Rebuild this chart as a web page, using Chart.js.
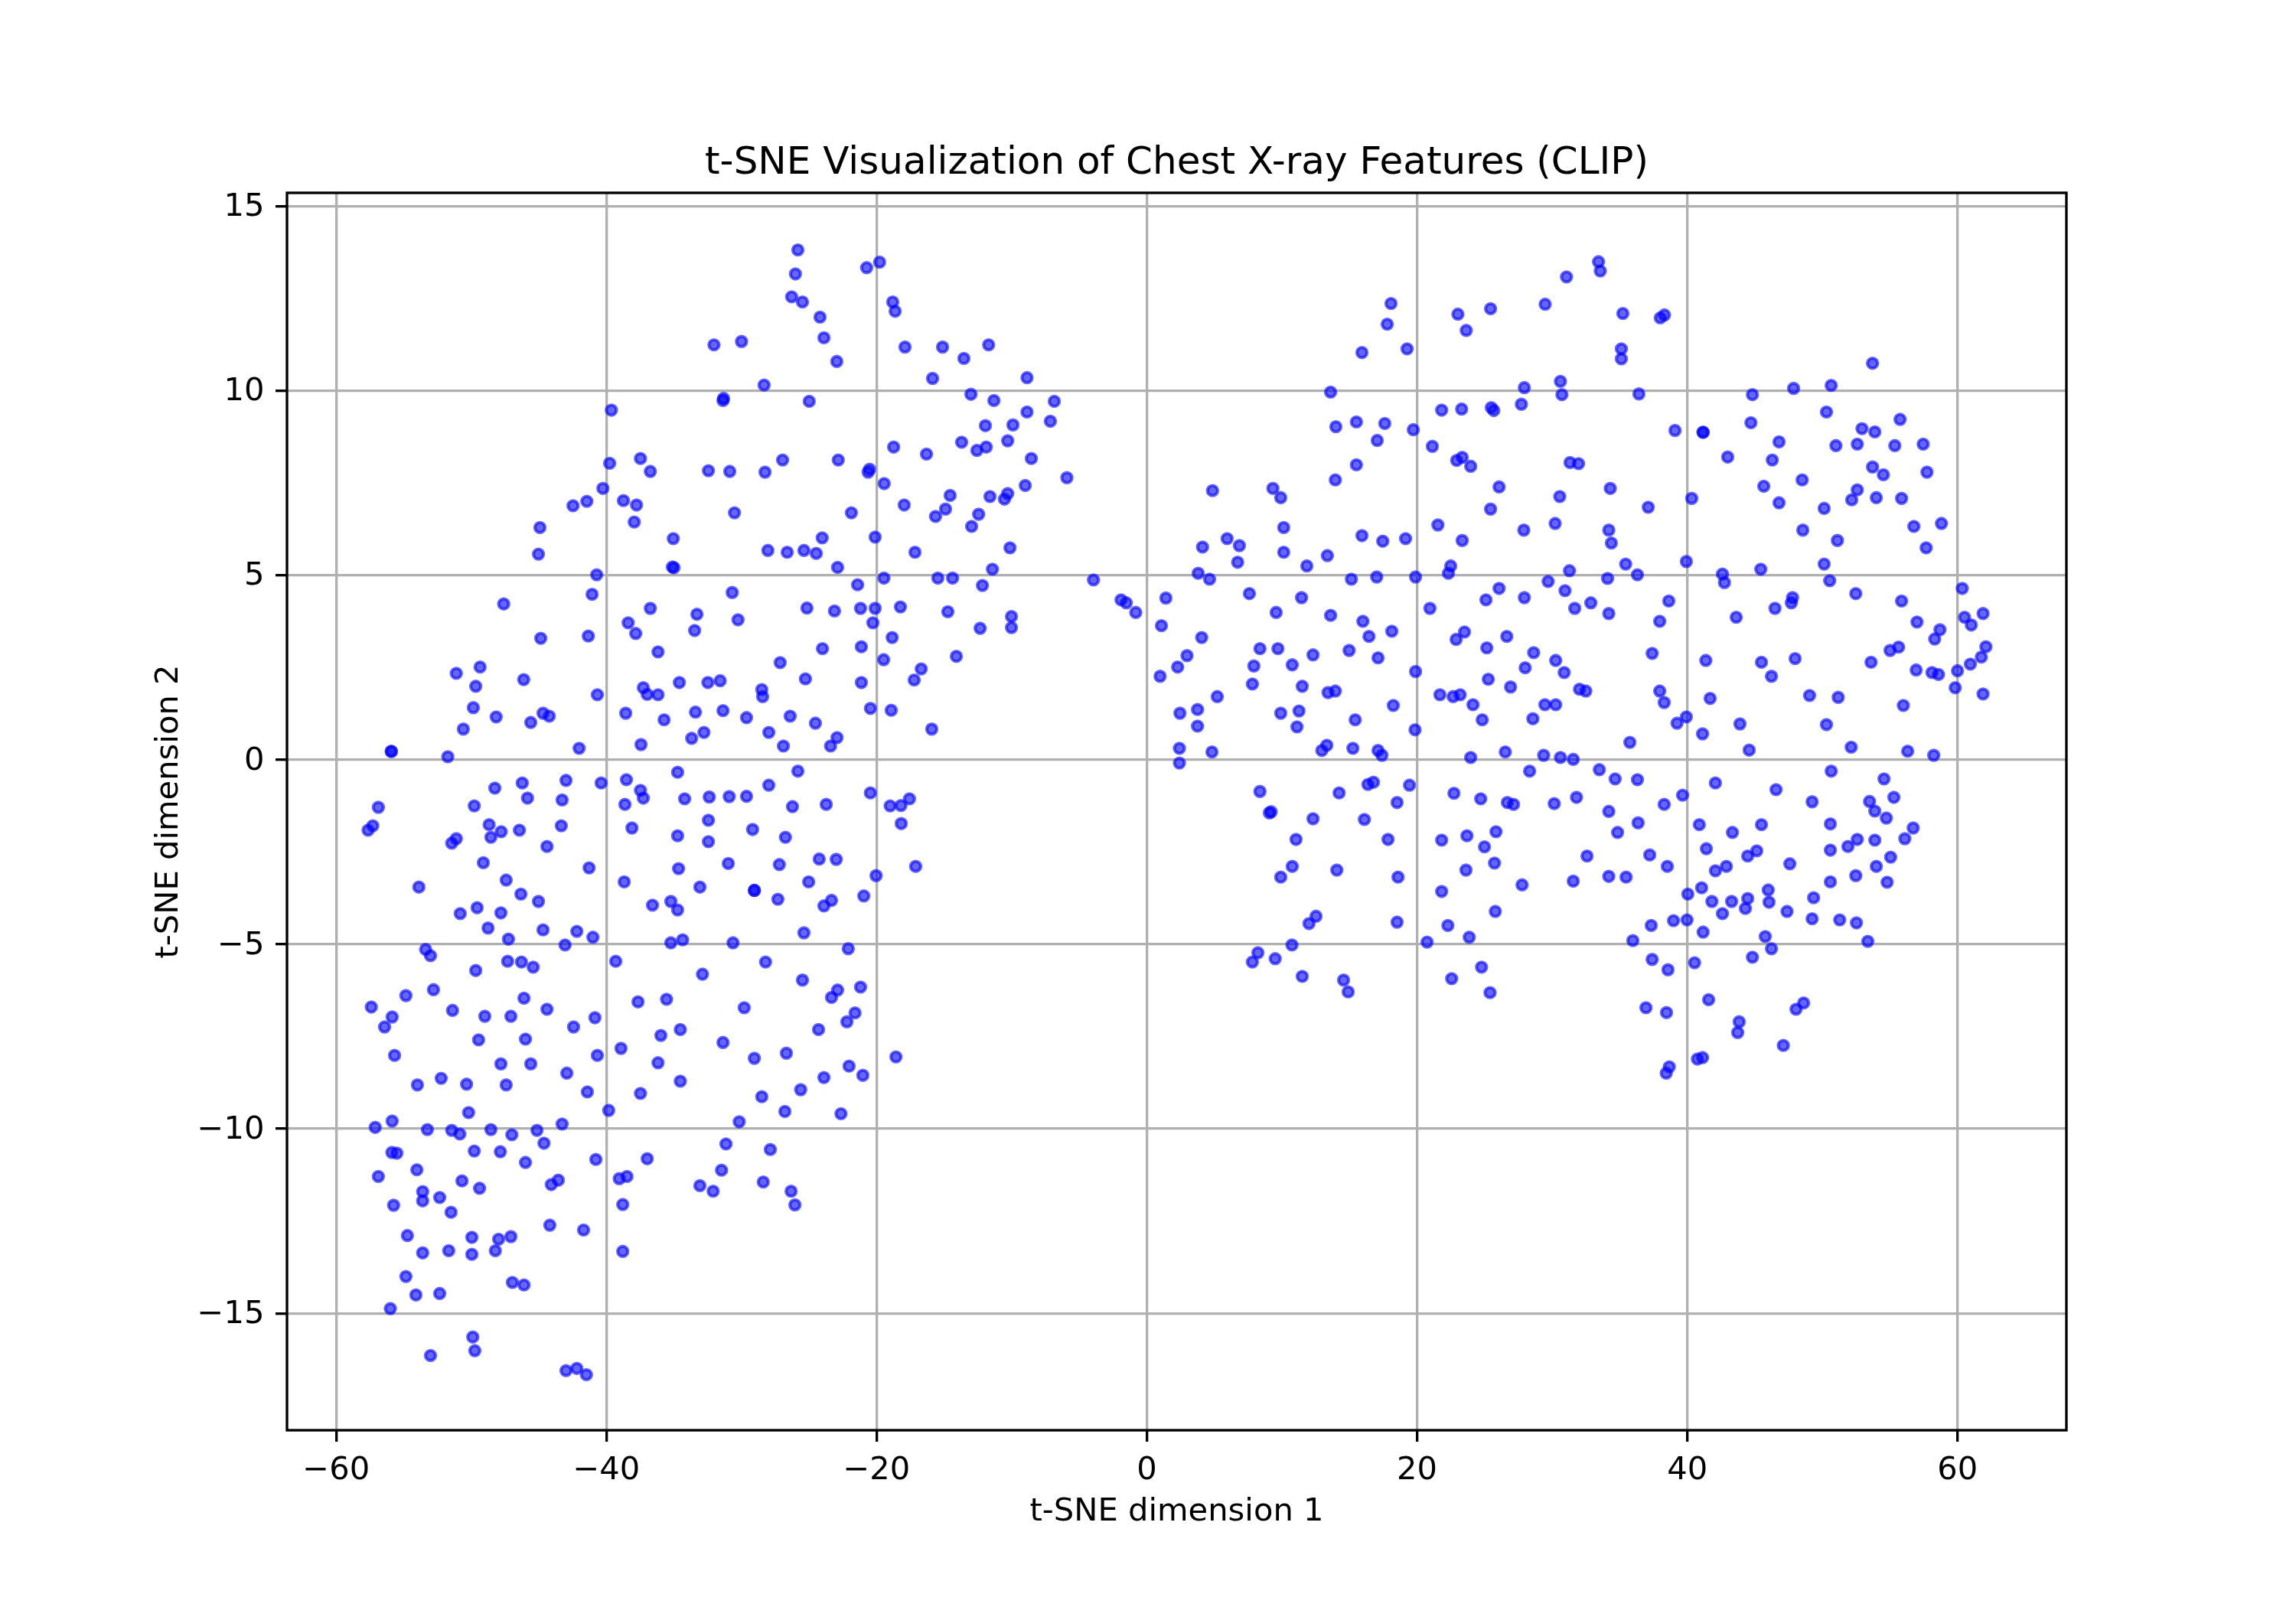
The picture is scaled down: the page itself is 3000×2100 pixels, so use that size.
<!DOCTYPE html>
<html>
<head>
<meta charset="utf-8">
<style>
html,body{margin:0;padding:0;background:#fff}
canvas{display:block}
</style>
<script src="https://cdn.jsdelivr.net/npm/chart.js@4"></script>
</head>
<body>
<canvas id="c" width="3000" height="2100" style="width:3000px;height:2100px"></canvas>
<script>
const chartTitle = "t-SNE Visualization of Chest X-ray Features (CLIP)";
const xLabel = "t-SNE dimension 1";
const yLabel = "t-SNE dimension 2";
const xTickValues = [-60,-40,-20,0,20,40,60];
const yTickValues = [-15,-10,-5,0,5,10,15];
const xLimits = [-63.64,68.06];
const yLimits = [-18.165,15.357];

const leftUpper = [
[-32.04,11.24],[-30.0,11.33],[-31.33,9.79],[-31.37,9.73],[-39.63,9.47],[-39.76,8.03],[-37.48,8.16],[-36.75,7.81],[-32.45,7.83],[-30.87,7.81],
[-40.26,7.35],[-41.45,7.0],[-42.47,6.88],[-38.74,7.02],[-37.77,6.9],[-30.52,6.69],[-37.94,6.44],[-44.92,6.29],[-45.03,5.57],[-35.05,5.99],
[-35.12,5.22],[-35.0,5.2],[-40.72,5.01],[-41.06,4.48],[-30.69,4.53],[-47.6,4.22],[-36.75,4.1],[-33.3,3.94],[-30.26,3.79],[-38.39,3.71],
[-33.47,3.5],[-37.83,3.42],[-44.86,3.29],[-41.34,3.35],[-36.18,2.92],[-49.35,2.51],[-51.11,2.34],[-49.67,1.99],[-46.12,2.17],[-40.67,1.76],
[-37.27,1.95],[-36.98,1.77],[-36.18,1.76],[-34.6,2.09],[-32.49,2.09],[-31.58,2.14],[-49.85,1.41],[-48.16,1.16],[-45.6,1.01],[-44.69,1.26],
[-44.23,1.18],[-50.59,0.83],[-38.57,1.26],[-35.73,1.08],[-33.41,1.29],[-31.37,1.33],[-29.63,1.14],[-32.78,0.74],[-33.69,0.58],[-37.44,0.41],
[-42.02,0.31],[-55.92,0.23],[-55.92,0.22],[-51.74,0.08]
];
const leftMiddle = [
[-34.73,-0.34],[-38.52,-0.54],[-42.99,-0.56],[-40.39,-0.63],[-46.23,-0.63],[-48.26,-0.77],[-37.48,-0.83],[-37.27,-1.04],[-45.84,-1.04],[-43.28,-1.09],
[-34.21,-1.06],[-32.39,-1.01],[-30.91,-1.0],[-29.63,-0.99],[-38.63,-1.21],[-49.78,-1.25],[-56.88,-1.29],[-57.29,-1.79],[-57.64,-1.91],[-48.68,-1.76],
[-47.79,-1.95],[-48.55,-2.1],[-46.44,-1.91],[-43.34,-1.79],[-38.11,-1.85],[-34.73,-2.06],[-32.45,-1.64],[-32.45,-2.22],[-51.11,-2.14],[-51.45,-2.26],
[-44.4,-2.35],[-49.11,-2.79],[-41.28,-2.93],[-34.66,-2.95],[-30.98,-2.81],[-47.42,-3.26],[-38.68,-3.31],[-53.88,-3.45],[-33.08,-3.45],[-46.33,-3.64],
[-45.03,-3.84],[-49.57,-4.01],[-47.81,-4.15],[-50.82,-4.17],[-36.59,-3.94],[-35.23,-3.84],[-34.73,-4.07],[-48.76,-4.56],[-44.69,-4.61],[-42.19,-4.65],
[-41.0,-4.81],[-47.25,-4.86],[-43.06,-5.02],[-35.23,-4.96],[-34.36,-4.88],[-30.63,-4.96],[-53.38,-5.14],[-53.02,-5.31],[-47.31,-5.46],[-46.29,-5.48],
[-45.42,-5.62],[-49.67,-5.71],[-39.31,-5.46],[-32.89,-5.81],[-52.8,-6.23],[-54.84,-6.39],[-57.4,-6.7],[-46.1,-6.46],[-35.55,-6.49],[-37.66,-6.56],
[-51.39,-6.79],[-44.4,-6.76],[-55.86,-6.97],[-49.0,-6.95],[-47.07,-6.95],[-40.85,-6.99],[-29.8,-6.72]
];
const leftLower = [
[-56.42,-7.24],[-42.43,-7.24],[-35.97,-7.47],[-34.53,-7.31],[-31.37,-7.66],[-49.46,-7.59],[-45.99,-7.57],[-55.68,-8.01],[-40.67,-8.01],[-38.92,-7.82],
[-47.81,-8.24],[-45.6,-8.24],[-36.18,-8.21],[-42.93,-8.49],[-34.53,-8.71],[-52.23,-8.63],[-53.99,-8.81],[-50.35,-8.79],[-47.42,-8.81],[-41.41,-9.0],
[-37.48,-9.04],[-39.83,-9.5],[-50.2,-9.56],[-55.86,-9.79],[-57.11,-9.96],[-43.28,-9.87],[-30.17,-9.81],[-53.25,-10.02],[-51.45,-10.04],[-50.85,-10.14],
[-48.55,-10.02],[-47.0,-10.16],[-45.14,-10.04],[-44.62,-10.39],[-31.15,-10.41],[-55.88,-10.64],[-55.51,-10.66],[-49.78,-10.6],[-47.85,-10.62],
[-45.99,-10.91],[-40.78,-10.83],[-36.98,-10.81],[-54.03,-11.11],[-56.88,-11.29],[-50.69,-11.41],[-49.39,-11.61],[-43.56,-11.39],[-44.08,-11.51],[-39.05,-11.35],
[-38.48,-11.29],[-31.48,-11.12],[-33.08,-11.54],[-32.1,-11.69],[-53.6,-11.7],[-53.6,-11.95],[-52.34,-11.86],[-55.75,-12.07],[-51.5,-12.26],[-38.79,-12.05],
[-44.19,-12.61],[-41.69,-12.74],[-54.73,-12.89],[-49.96,-12.94],[-47.98,-12.99],[-47.07,-12.92],[-53.6,-13.36],[-51.67,-13.3],[-49.96,-13.4],[-48.22,-13.3],
[-38.79,-13.32],[-54.84,-14.0],[-46.96,-14.16],[-46.1,-14.23],[-52.34,-14.46],[-54.1,-14.5],[-55.99,-14.87],[-49.89,-15.64],[-49.74,-16.01],[-53.02,-16.14],
[-42.99,-16.55],[-42.19,-16.49],[-41.48,-16.66]
];
const centerUpper = [
[-25.83,13.81],[-26.01,13.16],[-26.29,12.54],[-25.49,12.4],[-24.19,11.99],[-23.9,11.43],[-22.95,10.79],[-20.74,13.33],[-19.78,13.48],[-18.81,12.4],
[-18.63,12.15],[-17.9,11.18],[-15.12,11.18],[-13.54,10.87],[-11.71,11.24],[-15.86,10.33],[-8.87,10.35],[-28.33,10.15],[-24.99,9.71],[-13.02,9.9],
[-11.32,9.73],[-6.85,9.71],[-8.87,9.42],[-7.14,9.17],[-11.95,9.05],[-9.91,9.07],[-10.3,8.64],[-13.71,8.6],[-12.58,8.38],[-11.89,8.47],
[-8.55,8.16],[-18.74,8.47],[-16.31,8.28],[-26.96,8.12],[-22.84,8.12],[-28.26,7.79],[-20.52,7.87],[-20.63,7.79],[-19.44,7.48],
[-5.92,7.64],[-9.0,7.43],[-10.3,7.21],[-10.54,7.06],[-11.61,7.13],[-14.56,7.16],[-14.9,6.79],[-15.64,6.59],[-17.96,6.9],[-12.45,6.65],
[-12.97,6.32],[-21.87,6.69],[-24.03,6.01],[-20.11,6.03],[-10.13,5.74],[-28.05,5.67],[-26.62,5.62],[-25.38,5.67],[-24.47,5.59],[-17.16,5.62],
[-22.89,5.21],[-11.43,5.16],[-19.46,4.92],[-15.47,4.92],[-14.38,4.92],[-12.17,4.72],[-21.41,4.74]
];
const centerMiddle = [
[-25.16,4.11],[-23.12,4.03],[-21.19,4.1],[-20.11,4.1],[-18.24,4.14],[-14.73,4.01],[-10.02,3.88],[-10.02,3.58],[-12.34,3.56],[-20.28,3.71],
[-18.85,3.31],[-24.01,3.01],[-21.13,3.06],[-27.14,2.63],[-19.48,2.71],[-16.7,2.46],[-14.1,2.8],[-17.22,2.16],[-25.27,2.19],[-21.13,2.09],
[-28.5,1.9],[-28.44,1.71],[-20.46,1.39],[-18.92,1.34],[-26.4,1.18],[-24.53,0.99],[-27.98,0.74],[-22.93,0.6],[-23.41,0.37],[-26.9,0.37],
[-15.92,0.83],[-25.83,-0.31],[-27.98,-0.69],[-20.46,-0.9],[-19.0,-1.25],[-18.2,-1.24],[-17.57,-1.06],[-26.23,-1.27],[-23.73,-1.21],[-18.18,-1.73],
[-29.18,-1.89],[-26.75,-2.1],[-24.25,-2.69],[-22.99,-2.7],[-27.2,-2.84],[-17.11,-2.89],[-20.04,-3.14],[-25.03,-3.31],[-29.05,-3.54],[-29.05,-3.54],
[-27.31,-3.78],[-23.34,-3.81],[-23.9,-3.96],[-20.95,-3.69],[-25.38,-4.69],[-22.1,-5.12],[-28.22,-5.48],[-25.49,-5.97],[-21.19,-6.16],[-22.89,-6.24],
[-23.34,-6.44],[-21.6,-6.86],[-22.2,-7.1],[-24.3,-7.31],[-26.68,-7.95],[-29.05,-8.09],[-18.57,-8.05],[-22.04,-8.3],[-21.02,-8.55],[-23.9,-8.61],
[-25.62,-8.94],[-28.5,-9.13],[-26.79,-9.53],[-22.64,-9.59],[-27.87,-10.56],[-28.39,-11.44],[-26.33,-11.69],[-26.05,-12.06]
];
const bridge = [[-3.95,4.87],[-1.91,4.33],[-1.52,4.25],[-0.82,3.99]];
const rightUpper = [
[33.43,13.49],[33.56,13.24],[31.06,13.08],[29.48,12.34],[18.07,12.36],[17.79,11.8],[23.02,12.07],[25.44,12.22],[23.64,11.63],[15.92,11.03],
[19.26,11.13],[13.6,9.96],[27.94,10.08],[30.61,10.25],[30.72,9.89],[21.82,9.47],[23.3,9.5],[25.49,9.54],[25.68,9.46],
[27.72,9.63],[13.99,9.02],[15.51,9.15],[17.61,9.11],[19.72,8.94],[17.05,8.65],[21.13,8.49],[22.93,8.11],[23.34,8.19],[23.97,7.95],
[15.51,7.99],[13.95,7.58],[31.32,8.05],[31.95,8.02],[26.07,7.39],[34.3,7.35],[30.56,7.13],[4.86,7.29],[9.33,7.35],[9.91,7.1],
[25.44,6.79],[30.22,6.4],[21.54,6.36],[27.9,6.22],[34.19,6.22],[10.13,6.29],[15.92,6.07],[17.46,5.92],[19.15,5.99],[23.34,5.94],
[34.38,5.87],[5.94,5.99],[4.12,5.76],[6.85,5.8],[6.72,5.35],[10.13,5.62],[13.36,5.53],[11.84,5.25],[3.8,5.05],[4.64,4.89],
[22.49,5.25],[22.32,5.05],[31.28,5.12],[34.1,4.91],[15.14,4.89],[17.01,4.95],[19.89,4.95],[1.41,4.38],[7.59,4.5],
[11.45,4.39],[29.7,4.83],[26.07,4.64],[30.95,4.58],[25.1,4.33],[27.94,4.39],[31.67,4.1],[32.86,4.25],[20.95,4.1]
];
const rightMiddle = [
[9.57,3.99],[13.6,3.91],[15.99,3.75],[1.08,3.63],[4.06,3.31],[2.97,2.82],[2.28,2.51],[0.98,2.26],[8.37,3.01],[9.7,3.01],
[7.92,2.54],[10.76,2.57],[12.3,2.84],[14.97,2.96],[16.44,3.34],[18.13,3.48],[17.11,2.76],[19.89,2.39],[23.51,3.46],[22.89,3.26],
[26.64,3.34],[25.16,3.03],[28.63,2.9],[30.26,2.69],[28.0,2.49],[30.89,2.36],[25.27,2.18],[26.92,1.97],[32.02,1.91],[32.49,1.86],
[7.81,2.05],[11.5,1.99],[13.41,1.82],[13.95,1.86],[21.69,1.76],[22.67,1.71],[23.19,1.76],[24.14,1.49],[29.46,1.49],[30.26,1.49],
[5.21,1.71],[18.24,1.47],[2.45,1.26],[3.75,1.36],[3.75,0.91],[9.91,1.26],[11.26,1.32],[11.11,0.89],[15.42,1.08],[24.82,1.08],
[28.57,1.11],[19.85,0.81],[2.41,0.31],[2.41,-0.09],[4.82,0.21],[13.32,0.39],[12.95,0.25],[15.25,0.31],[17.11,0.25],[17.4,0.12],
[23.97,0.06],[26.53,0.21],[29.37,0.12],[30.61,0.06],[31.56,0.01],[28.33,-0.31],[33.49,-0.27],[8.37,-0.86],[14.23,-0.9],[16.36,-0.67],
[16.77,-0.61],[19.44,-0.69],[22.73,-0.91],[24.71,-1.06],[26.68,-1.16],[27.14,-1.21],[30.15,-1.19],[31.8,-1.02],[34.19,-1.4],[18.52,-1.16],
[9.07,-1.44],[9.2,-1.41],[12.3,-1.6],[16.1,-1.62],[11.04,-2.16],[17.85,-2.16],[21.82,-2.18],[23.69,-2.06],[25.84,-1.95],[24.99,-2.36],
[32.58,-2.61],[25.73,-2.8],[23.62,-2.99],[10.76,-2.89],[14.06,-2.99],[9.91,-3.18],[18.59,-3.18],[21.82,-3.57],[27.77,-3.39],[31.56,-3.29],
[34.19,-3.16],[25.79,-4.11],[12.52,-4.24],[12.0,-4.44],[18.52,-4.4],[22.28,-4.49],[23.86,-4.81],[20.74,-4.94],[10.74,-5.02],[8.22,-5.23],
[7.81,-5.48],[9.5,-5.39],[11.5,-5.87],[24.77,-5.62],[22.56,-5.93],[14.56,-5.97],[14.9,-6.29],[25.4,-6.31]
];
const farRightUpper = [
[35.23,12.09],[38.0,11.97],[38.31,12.05],[35.12,11.13],[35.12,10.86],[53.71,10.74],[36.42,9.91],[44.82,9.89],[47.87,10.06],
[50.65,10.14],[50.3,9.42],[55.75,9.22],[39.09,8.92],[41.17,8.87],[41.17,8.87],[44.71,9.13],[52.93,8.97],[53.88,8.88],[46.79,8.61],
[51.0,8.51],[52.58,8.55],[55.36,8.51],[57.46,8.55],[42.99,8.2],[46.29,8.12],[53.71,7.93],[54.51,7.72],[57.74,7.79],[48.5,7.58],
[45.66,7.41],[52.58,7.31],[40.33,7.08],[37.11,6.84],[46.79,6.96],[52.17,7.04],[53.99,7.1],[55.86,7.08],[50.13,6.81],[56.77,6.32],
[58.81,6.4],[48.55,6.22],[51.11,5.94],[57.68,5.74],[35.44,5.3],[39.93,5.37],[42.6,5.03],[42.75,4.8],[36.31,5.01],[45.44,5.16],
[50.13,5.3],[50.54,4.85],[52.47,4.5],[38.63,4.3],[55.86,4.3],[60.35,4.64],[47.79,4.39],[47.7,4.25],[46.49,4.1]
];
const farRightLower = [
[34.19,3.96],[37.96,3.75],[43.62,3.86],[57.0,3.73],[60.52,3.86],[61.02,3.65],[61.89,3.96],[58.7,3.52],[58.31,3.27],[55.64,3.05],
[55.01,2.96],[62.1,3.06],[61.76,2.78],[60.95,2.59],[37.4,2.88],[41.37,2.69],[45.49,2.64],[47.98,2.74],[53.6,2.64],[46.23,2.26],
[56.94,2.43],[58.11,2.36],[58.59,2.31],[60.0,2.41],[59.83,1.95],[61.89,1.78],[37.96,1.86],[38.29,1.55],[41.69,1.66],[49.05,1.74],
[51.17,1.69],[55.99,1.47],[39.93,1.16],[39.24,0.99],[43.9,0.97],[50.3,0.95],[41.13,0.7],[35.75,0.47],[44.58,0.26],[52.13,0.34],
[56.31,0.23],[58.24,0.12],[50.65,-0.31],[34.66,-0.52],[36.31,-0.54],[42.08,-0.63],[54.56,-0.52],[46.57,-0.81],[39.65,-0.96],[38.29,-1.21],
[49.24,-1.14],[55.29,-1.02],[53.49,-1.13],[53.88,-1.39],[54.73,-1.58],[36.36,-1.71],[40.89,-1.76],[45.49,-1.76],[50.59,-1.74],[34.84,-1.97],
[43.34,-1.97],[56.72,-1.85],[56.1,-2.14],[52.58,-2.16],[53.88,-2.18],[51.89,-2.35],[41.41,-2.41],[45.14,-2.47],[44.47,-2.61],[50.59,-2.45],
[37.22,-2.58],[38.52,-2.89],[42.89,-2.89],[42.08,-3.01],[47.59,-2.82],[55.05,-2.64],[53.99,-2.89],[52.47,-3.14],[35.47,-3.18],[50.59,-3.31],
[54.79,-3.32],[41.06,-3.47],[40.04,-3.64],[45.99,-3.53],[41.82,-3.84],[43.28,-3.84],[44.47,-3.76],[44.3,-4.03],[46.05,-3.86],[49.35,-3.74],
[42.6,-4.17],[47.38,-4.11],[49.24,-4.31],[51.28,-4.34],[52.52,-4.42],[38.98,-4.36],[39.98,-4.34],[37.33,-4.49],[41.17,-4.67],[45.77,-4.79],
[35.97,-4.9],[53.36,-4.92],[46.23,-5.12],[44.82,-5.35],[37.4,-5.41],[38.57,-5.69],[40.54,-5.5],[41.58,-6.5],[48.61,-6.59],[48.05,-6.76],
[36.94,-6.72],[38.46,-6.85],[43.84,-7.1],[43.73,-7.39],[47.11,-7.74],[41.13,-8.07],[40.75,-8.11],[38.67,-8.32],[38.44,-8.49]
];

const allPairs = [].concat(leftUpper,leftMiddle,leftLower,centerUpper,centerMiddle,bridge,rightUpper,rightMiddle,farRightUpper,farRightLower);
const fontFamily = "'DejaVu Sans'";
const minusLabel = v => String(v).replace('-', '\u2212');
const frame = {
  id:'frame',
  afterDraw(chart){
    const a = chart.chartArea, c = chart.ctx;
    c.save();
    c.strokeStyle = '#000';
    c.lineWidth = 3.33;
    c.strokeRect(a.left, a.top, a.right-a.left, a.bottom-a.top);
    c.restore();
  }
};
new Chart(document.getElementById('c'), {
  type:'scatter',
  data:{datasets:[{
    data: allPairs.map(p=>({x:p[0],y:p[1]})),
    backgroundColor:'rgba(0,0,255,0.6)',
    borderColor:'rgba(0,0,255,0.6)',
    borderWidth:4.17,
    pointRadius:6.6,
    pointHoverRadius:6.6
  }]},
  plugins:[frame],
  options:{
    responsive:false,
    animation:false,
    devicePixelRatio:1,
    events:[],
    layout:{padding:{left:0,right:300,top:0,bottom:0}},
    plugins:{
      legend:{display:false},
      tooltip:{enabled:false},
      title:{
        display:true,text:chartTitle,color:'#000',fullSize:false,
        font:{family:fontFamily,size:50,weight:'normal',lineHeight:1.2},
        padding:{top:184,bottom:8}
      }
    },
    scales:{
      x:{
        type:'linear',min:xLimits[0],max:xLimits[1],z:1,
        afterFit:s=>{s.height=231;},
        afterBuildTicks:s=>{s.ticks=xTickValues.map(v=>({value:v}));},
        grid:{color:'#b0b0b0',lineWidth:3.33,tickColor:'#000',tickWidth:3.33,tickLength:15},
        border:{display:false},
        ticks:{color:'#000',padding:13,maxRotation:0,autoSkip:false,font:{family:fontFamily,size:41.67},callback:minusLabel},
        title:{display:true,text:xLabel,color:'#000',font:{family:fontFamily,size:41.67},padding:{top:0,bottom:99}}
      },
      y:{
        type:'linear',min:yLimits[0],max:yLimits[1],z:1,
        afterFit:s=>{s.width=375;},
        afterBuildTicks:s=>{s.ticks=yTickValues.map(v=>({value:v}));},
        grid:{color:'#b0b0b0',lineWidth:3.33,tickColor:'#000',tickWidth:3.33,tickLength:15},
        border:{display:false},
        ticks:{color:'#000',padding:14.6,labelOffset:2,autoSkip:false,font:{family:fontFamily,size:41.67},callback:minusLabel},
        title:{display:true,text:yLabel,color:'#000',font:{family:fontFamily,size:41.67},padding:{top:196,bottom:0}}
      }
    }
  }
});
</script>
</body>
</html>
